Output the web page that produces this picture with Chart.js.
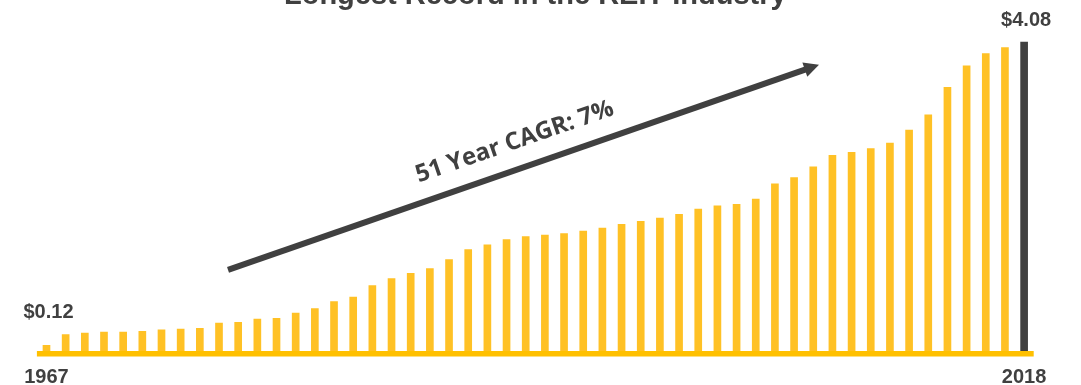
<!DOCTYPE html>
<html>
<head>
<meta charset="utf-8">
<script src="https://cdn.jsdelivr.net/npm/chart.js@4/dist/chart.umd.min.js"></script>
<style>
  html, body { margin: 0; padding: 0; background: #ffffff; }
  #wrap { width: 1081px; height: 385px; position: relative; overflow: hidden; }
</style>
</head>
<body>
<div id="wrap"><canvas id="c" width="1081" height="385"></canvas></div>
<script>
// Annual dividends per share, 1967 through 2018
const years = [
  '1967','1968','1969','1970','1971','1972','1973','1974','1975','1976',
  '1977','1978','1979','1980','1981','1982','1983','1984','1985','1986',
  '1987','1988','1989','1990','1991','1992','1993','1994','1995','1996',
  '1997','1998','1999','2000','2001','2002','2003','2004','2005','2006',
  '2007','2008','2009','2010','2011','2012','2013','2014','2015','2016',
  '2017','2018'
];
const dividends = [
  0.12, 0.26, 0.28, 0.29, 0.29, 0.30, 0.32, 0.33, 0.34, 0.41,
  0.42, 0.46, 0.47, 0.54, 0.60, 0.69, 0.75, 0.90, 0.99, 1.06,
  1.12, 1.24, 1.37, 1.43, 1.50, 1.54, 1.56, 1.58, 1.61, 1.65,
  1.70, 1.74, 1.78, 1.83, 1.90, 1.94, 1.96, 2.03, 2.23, 2.31,
  2.45, 2.60, 2.64, 2.69, 2.76, 2.93, 3.13, 3.49, 3.77, 3.93,
  4.01, 4.08
];
// Only the first and last years are printed under the axis
const shownYears = ['1967', '2018'];
// Bars whose value is printed above them
const valueLabelIndexes = [0, dividends.length - 1];

const titleText = 'Longest Record in the REIT Industry';
const cagrText = '51 Year CAGR: 7%';
// Trend arrow endpoints in data units (category index, dividend)
const trendStart = [9.47, 1.10];
const trendEnd = [40.30, 3.78];

const GOLD = '#FFC125';
const GOLD_AXIS = '#FFC000';
const DARK = '#404040';
const BOLD_FONT = '"Liberation Sans", Arial, sans-serif';

const decorations = {
  id: 'decorations',
  afterDatasetsDraw(chart, args, opts) {
    const { ctx, chartArea, scales } = chart;
    const xs = scales.x, ys = scales.y;
    ctx.save();

    // gold baseline under the bars
    ctx.fillStyle = GOLD_AXIS;
    ctx.fillRect(chartArea.left, chartArea.bottom, chartArea.right - chartArea.left, 5.5);

    // headline, partially above the canvas edge
    ctx.fillStyle = DARK;
    ctx.font = 'bold 29px ' + BOLD_FONT;
    ctx.textAlign = 'center';
    ctx.textBaseline = 'alphabetic';
    ctx.fillText(titleText, (chartArea.left + chartArea.right) / 2, 4);

    // value labels for the first and last bars
    const meta = chart.getDatasetMeta(0);
    ctx.font = 'bold 20px ' + BOLD_FONT;
    valueLabelIndexes.forEach((i, k) => {
      const bar = meta.data[i];
      const lift = opts.labelLift[k];
      ctx.fillText('$' + dividends[i].toFixed(2), bar.x + 2, bar.y - lift);
    });

    // trend arrow
    const x0 = xs.getPixelForValue(trendStart[0]), y0 = ys.getPixelForValue(trendStart[1]);
    const x1 = xs.getPixelForValue(trendEnd[0]), y1 = ys.getPixelForValue(trendEnd[1]);
    const dx = x1 - x0, dy = y1 - y0, len = Math.hypot(dx, dy);
    const ux = dx / len, uy = dy / len;
    const nx = uy, ny = -ux; // normal pointing up-left
    const headLen = 15, headHalf = 7.5;
    ctx.strokeStyle = DARK;
    ctx.lineWidth = 6;
    ctx.lineCap = 'butt';
    ctx.beginPath();
    ctx.moveTo(x0, y0);
    ctx.lineTo(x1 - ux * (headLen - 1), y1 - uy * (headLen - 1));
    ctx.stroke();
    ctx.beginPath();
    ctx.moveTo(x1, y1);
    ctx.lineTo(x1 - ux * headLen + nx * headHalf, y1 - uy * headLen + ny * headHalf);
    ctx.lineTo(x1 - ux * headLen - nx * headHalf, y1 - uy * headLen - ny * headHalf);
    ctx.closePath();
    ctx.fill();

    // growth caption along the arrow
    const mx = (x0 + x1) / 2 + nx * 20, my = (y0 + y1) / 2 + ny * 20;
    ctx.translate(mx, my);
    ctx.rotate(Math.atan2(dy, dx));
    ctx.font = 'bold 24px "Open Sans", sans-serif';
    ctx.textAlign = 'center';
    ctx.textBaseline = 'alphabetic';
    ctx.fillText(cagrText, 0, 0);

    ctx.restore();
  }
};

new Chart(document.getElementById('c'), {
  type: 'bar',
  data: {
    labels: years,
    datasets: [{
      data: dividends,
      backgroundColor: (c) => c.dataIndex === dividends.length - 1 ? DARK : GOLD,
      borderWidth: 0,
      categoryPercentage: 1,
      barPercentage: 0.4
    }]
  },
  options: {
    responsive: false,
    devicePixelRatio: 1,
    animation: false,
    layout: { padding: { left: 36.9, right: 47.3, top: 2, bottom: 0 } },
    plugins: {
      legend: { display: false },
      tooltip: { enabled: false },
      title: { display: false },
      decorations: { labelLift: [27, 16] }
    },
    scales: {
      x: {
        grid: { display: false, drawTicks: false },
        border: { display: false },
        afterFit: (scale) => { scale.height = 34; },
        ticks: {
          autoSkip: false,
          maxRotation: 0,
          minRotation: 0,
          padding: 16,
          color: DARK,
          font: { family: BOLD_FONT, size: 20, weight: 'bold', lineHeight: 1 },
          callback: function (value) {
            const lbl = this.getLabelForValue(value);
            return shownYears.includes(lbl) ? lbl : '';
          }
        }
      },
      y: {
        display: false,
        min: 0.04,
        max: 4.6
      }
    }
  },
  plugins: [decorations]
});
</script>
</body>
</html>
